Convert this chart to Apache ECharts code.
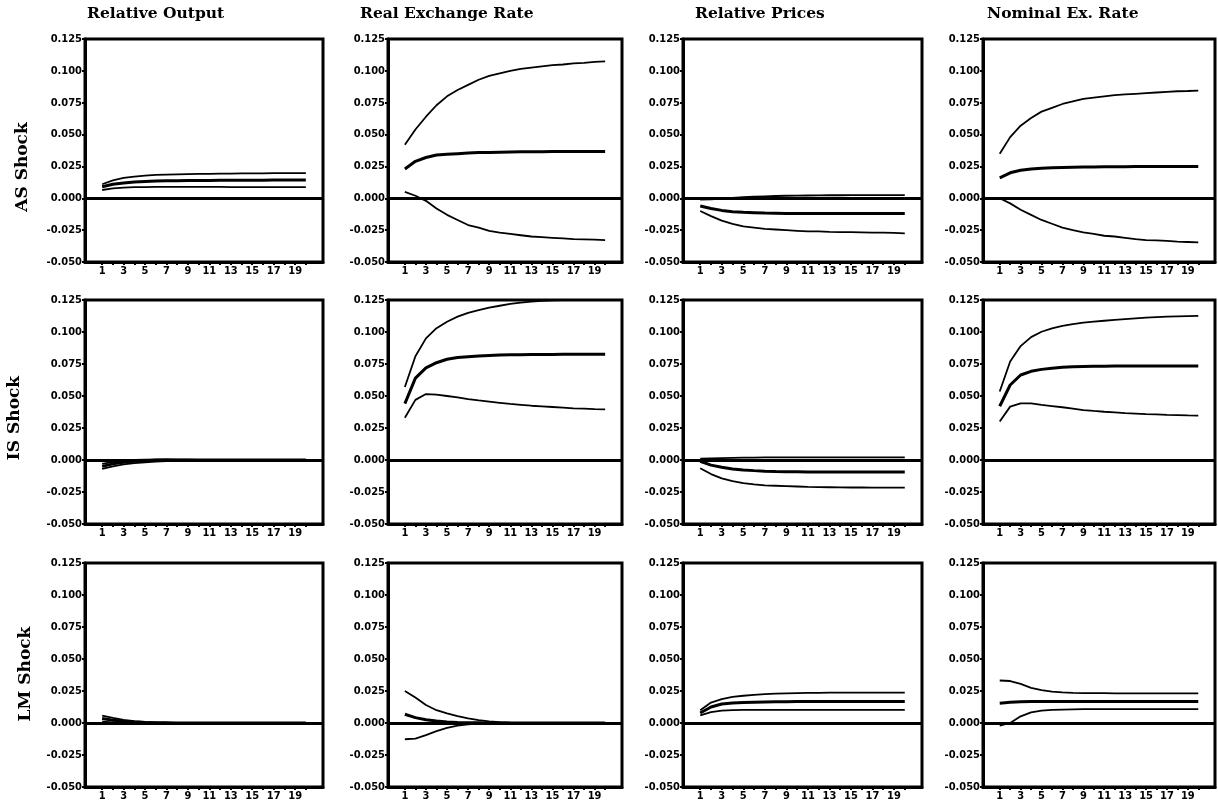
<!DOCTYPE html>
<html>
<head>
<meta charset="utf-8">
<script src="https://cdn.jsdelivr.net/npm/echarts@6/dist/echarts.min.js"></script>
<style>html,body{margin:0;padding:0;background:#fff}#c{width:1218px;height:805px}</style>
</head>
<body>
<div id="c"></div>
<script>
// ---- categories / ticks ----
const periods = [1,2,3,4,5,6,7,8,9,10,11,12,13,14,15,16,17,18,19,20];
const xLabelValues = [1,3,5,7,9,11,13,15,17,19];
const xTickValues = [1,2,3,4,5,6,7,8,9,10,11,12,13,14,15,16,17,18,19,20];
const yTickValues = [-0.05,-0.025,0,0.025,0.05,0.075,0.1,0.125];
const columnTitles = ['Relative Output','Real Exchange Rate','Relative Prices','Nominal Ex. Rate'];
const rowTitles = ['AS Shock','IS Shock','LM Shock'];

// ---- AS shock ----
const AS_output_hi = [0.011,0.014,0.016,0.017,0.0178,0.0183,0.0186,0.0188,0.019,0.0191,0.0192,0.0193,0.0194,0.0195,0.0196,0.0196,0.0197,0.0197,0.0198,0.0198];
const AS_output_mid = [0.009,0.011,0.012,0.0128,0.0132,0.0135,0.0137,0.0138,0.0139,0.014,0.014,0.0141,0.0141,0.0142,0.0142,0.0142,0.0143,0.0143,0.0143,0.0143];
const AS_output_lo = [0.0065,0.0078,0.0084,0.0087,0.0088,0.0089,0.0089,0.0089,0.0089,0.0089,0.0089,0.0089,0.0088,0.0088,0.0088,0.0088,0.0088,0.0088,0.0088,0.0088];

const AS_rer_hi = [0.042,0.054,0.064,0.073,0.080,0.085,0.089,0.093,0.096,0.098,0.100,0.1015,0.1025,0.1035,0.1045,0.105,0.1058,0.1063,0.107,0.1075];
const AS_rer_mid = [0.023,0.029,0.032,0.034,0.0345,0.035,0.0355,0.036,0.036,0.0362,0.0364,0.0365,0.0366,0.0366,0.0367,0.0367,0.0368,0.0368,0.0368,0.0368];
const AS_rer_lo = [0.005,0.002,-0.002,-0.008,-0.013,-0.017,-0.021,-0.023,-0.0255,-0.027,-0.028,-0.029,-0.030,-0.0305,-0.031,-0.0315,-0.032,-0.0322,-0.0325,-0.0328];

const AS_prices_hi = [-0.001,-0.0008,-0.0003,0.0003,0.0008,0.0012,0.0015,0.0018,0.002,0.0021,0.0022,0.0023,0.0024,0.0024,0.0025,0.0025,0.0025,0.0025,0.0025,0.0025];
const AS_prices_mid = [-0.006,-0.008,-0.0095,-0.0105,-0.011,-0.0113,-0.0116,-0.0118,-0.012,-0.012,-0.012,-0.012,-0.012,-0.012,-0.012,-0.012,-0.012,-0.012,-0.012,-0.012];
const AS_prices_lo = [-0.010,-0.014,-0.0175,-0.020,-0.022,-0.023,-0.024,-0.0245,-0.025,-0.0255,-0.026,-0.026,-0.0263,-0.0265,-0.0265,-0.0267,-0.027,-0.027,-0.0272,-0.0275];

const AS_nominal_hi = [0.035,0.048,0.057,0.063,0.068,0.071,0.074,0.076,0.078,0.079,0.080,0.081,0.0815,0.082,0.0825,0.083,0.0835,0.084,0.0842,0.0845];
const AS_nominal_mid = [0.016,0.020,0.022,0.023,0.0235,0.024,0.0242,0.0244,0.0245,0.0246,0.0247,0.0248,0.0248,0.0249,0.0249,0.025,0.025,0.025,0.025,0.025];
const AS_nominal_lo = [0.0,-0.004,-0.009,-0.013,-0.017,-0.020,-0.023,-0.025,-0.0267,-0.028,-0.0294,-0.030,-0.031,-0.032,-0.0328,-0.033,-0.0335,-0.034,-0.0343,-0.0346];

// ---- IS shock ----
const IS_output_hi = [-0.003,-0.0015,-0.0005,0.0,0.0003,0.0004,0.0004,0.0003,0.0002,0.0001,0,0,0,0,0,0,0,0,0,0];
const IS_output_mid = [-0.005,-0.003,-0.0018,-0.001,-0.0005,-0.0002,0,0,0,0,0,0,0,0,0,0,0,0,0,0];
const IS_output_lo = [-0.007,-0.005,-0.0035,-0.0025,-0.0018,-0.0012,-0.0008,-0.0005,-0.0003,-0.0002,-0.0001,0,0,0,0,0,0,0,0,0];

const IS_rer_hi = [0.057,0.081,0.095,0.103,0.108,0.112,0.115,0.117,0.119,0.1205,0.122,0.123,0.1237,0.1243,0.1247,0.125,0.125,0.125,0.125,0.125];
const IS_rer_mid = [0.044,0.064,0.072,0.076,0.0787,0.080,0.0807,0.0813,0.0817,0.082,0.0822,0.0823,0.0824,0.0825,0.0825,0.0826,0.0826,0.0826,0.0826,0.0826];
const IS_rer_lo = [0.033,0.047,0.0515,0.051,0.050,0.049,0.0475,0.0465,0.0456,0.0447,0.0438,0.0431,0.0424,0.0419,0.0414,0.0409,0.0404,0.0401,0.0398,0.0396];

const IS_prices_hi = [0.001,0.0013,0.0015,0.0017,0.0018,0.0019,0.002,0.002,0.002,0.002,0.002,0.002,0.002,0.002,0.002,0.002,0.002,0.002,0.002,0.002];
const IS_prices_mid = [-0.001,-0.004,-0.0057,-0.007,-0.0078,-0.0083,-0.0087,-0.009,-0.0091,-0.0092,-0.0093,-0.0093,-0.0094,-0.0094,-0.0094,-0.0094,-0.0094,-0.0094,-0.0094,-0.0094];
const IS_prices_lo = [-0.0065,-0.011,-0.0143,-0.0165,-0.018,-0.019,-0.0198,-0.0201,-0.0204,-0.0207,-0.021,-0.0212,-0.0213,-0.0214,-0.0215,-0.0215,-0.0216,-0.0216,-0.0216,-0.0216];

const IS_nominal_hi = [0.0535,0.077,0.089,0.096,0.1002,0.1028,0.1047,0.1061,0.1073,0.1081,0.1088,0.1095,0.1101,0.1107,0.1112,0.1116,0.112,0.1122,0.1124,0.1126];
const IS_nominal_mid = [0.042,0.0586,0.0664,0.0693,0.0708,0.0717,0.0724,0.0728,0.073,0.0732,0.0733,0.0734,0.0734,0.0734,0.0735,0.0735,0.0735,0.0735,0.0735,0.0735];
const IS_nominal_lo = [0.030,0.0417,0.0443,0.0442,0.043,0.0421,0.0412,0.0401,0.039,0.0383,0.0377,0.0372,0.0367,0.0363,0.0359,0.0356,0.0352,0.035,0.0348,0.0347];

// ---- LM shock ----
const LM_output_hi = [0.0057,0.004,0.0025,0.0015,0.0008,0.0004,0.0002,0.0001,0,0,0,0,0,0,0,0,0,0,0,0];
const LM_output_mid = [0.0035,0.0022,0.0013,0.0007,0.0004,0.0002,0.0001,0,0,0,0,0,0,0,0,0,0,0,0,0];
const LM_output_lo = [0.001,0.0005,0.0002,0.0001,0,0,0,0,0,0,0,0,0,0,0,0,0,0,0,0];

const LM_rer_hi = [0.025,0.020,0.0141,0.010,0.0076,0.0054,0.0037,0.0022,0.0012,0.0006,0.0003,0.0001,0,0,0,0,0,0,0,0];
const LM_rer_mid = [0.0068,0.0042,0.0025,0.0015,0.0008,0.0004,0.0002,0.0001,0,0,0,0,0,0,0,0,0,0,0,0];
const LM_rer_lo = [-0.0127,-0.0122,-0.0095,-0.0063,-0.0038,-0.002,-0.001,-0.0004,-0.0001,0,0,0,0,0,0,0,0,0,0,0];

const LM_prices_hi = [0.010,0.016,0.0187,0.0204,0.0213,0.022,0.0226,0.023,0.0232,0.0234,0.0235,0.0236,0.0237,0.0237,0.0237,0.0237,0.0237,0.0237,0.0237,0.0237];
const LM_prices_mid = [0.0078,0.0125,0.0148,0.0157,0.0161,0.0163,0.0165,0.0166,0.0166,0.0167,0.0167,0.0167,0.0167,0.0167,0.0167,0.0167,0.0167,0.0167,0.0167,0.0167];
const LM_prices_lo = [0.006,0.0085,0.0097,0.0101,0.0102,0.0102,0.0102,0.0102,0.0102,0.0102,0.0102,0.0102,0.0102,0.0102,0.0102,0.0102,0.0102,0.0102,0.0102,0.0102];

const LM_nominal_hi = [0.0332,0.0328,0.0305,0.0275,0.0256,0.0245,0.0239,0.0236,0.0234,0.0233,0.0233,0.0232,0.0232,0.0232,0.0232,0.0232,0.0232,0.0232,0.0232,0.0232];
const LM_nominal_mid = [0.0155,0.0163,0.0166,0.0167,0.0167,0.0167,0.0167,0.0167,0.0167,0.0167,0.0167,0.0167,0.0167,0.0167,0.0167,0.0167,0.0167,0.0167,0.0167,0.0167];
const LM_nominal_lo = [-0.002,0.0,0.0052,0.0083,0.0096,0.0102,0.0105,0.0107,0.0108,0.0109,0.0109,0.0109,0.0109,0.0109,0.0109,0.0109,0.0109,0.0109,0.0109,0.0109];

const panels = [
  [[AS_output_hi,AS_output_mid,AS_output_lo],[AS_rer_hi,AS_rer_mid,AS_rer_lo],[AS_prices_hi,AS_prices_mid,AS_prices_lo],[AS_nominal_hi,AS_nominal_mid,AS_nominal_lo]],
  [[IS_output_hi,IS_output_mid,IS_output_lo],[IS_rer_hi,IS_rer_mid,IS_rer_lo],[IS_prices_hi,IS_prices_mid,IS_prices_lo],[IS_nominal_hi,IS_nominal_mid,IS_nominal_lo]],
  [[LM_output_hi,LM_output_mid,LM_output_lo],[LM_rer_hi,LM_rer_mid,LM_rer_lo],[LM_prices_hi,LM_prices_mid,LM_prices_lo],[LM_nominal_hi,LM_nominal_mid,LM_nominal_lo]]
];

// ---- layout ----
const colLeft = [85, 388, 683, 983];
const colWidth = [238, 234, 239, 232];
const rowTop = [39, 300, 563];
const rowHeight = [223, 224, 224];
const colTitleLeft = [87, 360, 695, 987];
const rowTitleX = [23, 15, 26];
const rowTitleY = [167, 418, 674];

const tickFont = '"DejaVu Sans Condensed","Liberation Sans Narrow",sans-serif';
const serif = '"DejaVu Serif","Liberation Serif",serif';

const grids = [], xAxes = [], yAxes = [], series = [], graphics = [];
const pairs = ys => ys.map((v, i) => [periods[i], v]);

for (let r = 0; r < 3; r++) {
  for (let c = 0; c < 4; c++) {
    const gi = r * 4 + c;
    grids.push({left: colLeft[c], top: rowTop[r], width: colWidth[c], height: rowHeight[r],
      show: true, borderColor: '#000', borderWidth: 3, backgroundColor: '#fff', containLabel: false});
    xAxes.push({type: 'value', gridIndex: gi, min: -0.6, max: 21.6,
      axisLine: {show: true, onZero: false, lineStyle: {color: '#000', width: 3}},
      axisTick: {show: true, inside: false, length: 3, customValues: xTickValues, lineStyle: {color: '#000', width: 2}},
      axisLabel: {show: true, customValues: xLabelValues, margin: 4, color: '#000',
        fontFamily: tickFont, fontWeight: 'bold', fontSize: 11},
      splitLine: {show: false}});
    yAxes.push({type: 'value', gridIndex: gi, min: -0.05, max: 0.125, interval: 0.025,
      axisLine: {show: true, onZero: false, lineStyle: {color: '#000', width: 3}},
      axisTick: {show: true, inside: false, length: 3, lineStyle: {color: '#000', width: 2}},
      axisLabel: {show: true, margin: 3, color: '#000', fontFamily: tickFont, fontWeight: 'bold', fontSize: 11,
        formatter: v => v.toFixed(3)},
      splitLine: {show: false}});
    const [hi, mid, lo] = panels[r][c];
    const base = {type: 'line', xAxisIndex: gi, yAxisIndex: gi, symbol: 'none', smooth: false,
      silent: true, animation: false, clip: true};
    series.push(Object.assign({}, base, {data: pairs(hi), lineStyle: {color: '#000', width: 1.8}}));
    series.push(Object.assign({}, base, {data: pairs(lo), lineStyle: {color: '#000', width: 1.8}}));
    series.push(Object.assign({}, base, {data: pairs(mid), lineStyle: {color: '#000', width: 3},
      markLine: {silent: true, symbol: 'none', animation: false, label: {show: false},
        lineStyle: {color: '#000', width: 3, type: 'solid'}, data: [{yAxis: 0}]}}));
  }
}
for (let c = 0; c < 4; c++) {
  graphics.push({type: 'text', left: colTitleLeft[c], top: 6,
    style: {text: columnTitles[c], font: 'bold 15.5px ' + serif, fill: '#000'}});
}
for (let r = 0; r < 3; r++) {
  graphics.push({type: 'text', x: rowTitleX[r], y: rowTitleY[r], rotation: Math.PI / 2,
    style: {text: rowTitles[r], font: 'bold 17px ' + serif, fill: '#000', align: 'center', verticalAlign: 'middle'}});
}

const chart = echarts.init(document.getElementById('c'), null, {renderer: 'canvas'});
chart.setOption({
  animation: false,
  backgroundColor: '#fff',
  grid: grids, xAxis: xAxes, yAxis: yAxes, series: series, graphic: graphics
});
</script>
</body>
</html>
